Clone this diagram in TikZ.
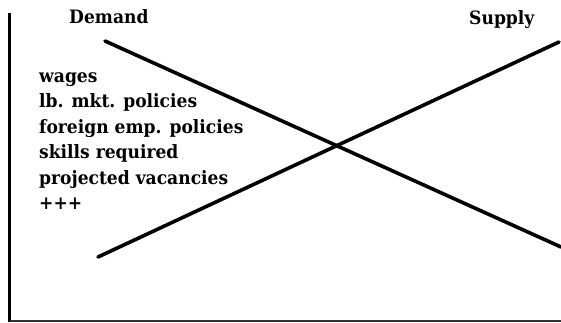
\documentclass[tikz,border=0pt]{standalone}
\usepackage{fontspec}
\setmainfont{DejaVu Serif}[FakeStretch=0.93]
\begin{document}
\begin{tikzpicture}[x=1pt,y=1pt,
  lbl/.style={inner sep=0pt,anchor=base west,font=\fontsize{18.4}{21}\selectfont\bfseries},
  curve/.style={line width=3.6pt,line cap=round},
  axis/.style={line width=3pt}]
\useasboundingbox (0,0) rectangle (561,322);
% axes
\coordinate (ytop) at (9.5,309);
\coordinate (orig) at (9.5,1.3);
\coordinate (xend) at (561,1.3);
\draw[axis] (ytop) -- (9.5,0);
\draw[line width=1.6pt,draw=black!80] (orig) -- (xend);
% curves
\coordinate (d1) at (105,281);
\coordinate (d2) at (561,75);
\coordinate (s1) at (98,65);
\coordinate (s2) at (559,280);
\draw[curve] (d1) -- (d2);
\draw[curve] (s1) -- (s2);
% labels
\node[lbl] (dem) at (69,298) {Demand};
\node[lbl] (sup) at (469,297) {Supply};
\node[lbl] (t1) at (39,240) {wages};
\node[lbl] (t2) at (39,214.5) {lb. mkt. policies};
\node[lbl] (t3) at (39,189) {foreign emp. policies};
\node[lbl] (t4) at (39,163.5) {skills required};
\node[lbl] (t5) at (39,138) {projected vacancies};
\node[lbl] (t6) at (39,112.5) {+++};
\end{tikzpicture}
\end{document}
